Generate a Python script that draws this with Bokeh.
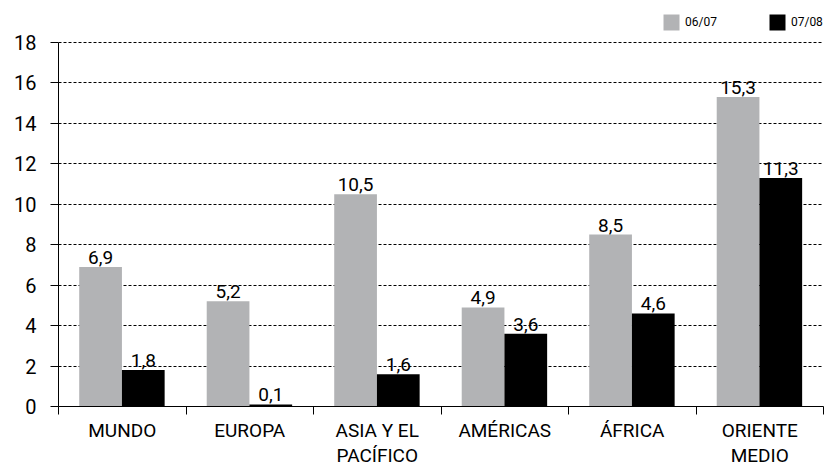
import numpy as np
from bokeh.plotting import figure
from bokeh.models import (Range1d, FixedTicker, CustomJSTickFormatter, Legend, LegendItem,
                          ColumnDataSource)
from bokeh.core.properties import value
from bokeh.embed import file_html
from bokeh.resources import INLINE

categories = ["MUNDO", "EUROPA", "ASIA Y EL\nPACÍFICO", "AMÉRICAS", "ÁFRICA", "ORIENTE\nMEDIO"]
series_names = ["06/07", "07/08"]
vals_0607 = [6.9, 5.2, 10.5, 4.9, 8.5, 15.3]
vals_0708 = [1.8, 0.1, 1.6, 3.6, 4.6, 11.3]
y_ticks = [0, 2, 4, 6, 8, 10, 12, 14, 16, 18]
y_max = 18

FONT = "Roboto"
GRAY = "#B2B3B5"
BLACK = "#000000"

n = len(categories)
idx = np.arange(n)

p = figure(width=824, height=469, output_backend="svg", toolbar_location=None,
           x_range=Range1d(0, n), y_range=Range1d(0, 19.58),
           min_border_left=58, min_border_right=1, min_border_top=10, min_border_bottom=62)
p.outline_line_color = None
p.background_fill_color = "white"
p.border_fill_color = "white"

fmt = lambda v: f"{v:.1f}".replace(".", ",")
src_a = ColumnDataSource(dict(x=idx + 0.33, top=vals_0607, lab=[fmt(v) for v in vals_0607]))
src_b = ColumnDataSource(dict(x=idx + 0.665, top=vals_0708, lab=[fmt(v) for v in vals_0708]))

ra = p.vbar(x="x", top="top", bottom=0, width=0.335, source=src_a, fill_color=GRAY, line_color=None)
rb = p.vbar(x="x", top="top", bottom=0, width=0.335, source=src_b, fill_color=BLACK, line_color=None)

for s in (src_a, src_b):
    p.text(x="x", y="top", text="lab", source=s, text_align="center", text_baseline="bottom",
           y_offset=-3, text_font=value(FONT), text_font_size="19px", text_color="black")

# grid
p.xgrid.visible = False
p.ygrid.ticker = FixedTicker(ticks=y_ticks)
p.ygrid.grid_line_color = "black"
p.ygrid.grid_line_dash = "3 2"
p.ygrid.grid_line_width = 1

# y axis
p.yaxis.ticker = FixedTicker(ticks=y_ticks)
p.yaxis.bounds = (0, y_max)
p.yaxis.axis_line_color = "black"
p.yaxis.major_tick_out = 8
p.yaxis.major_tick_in = 0
p.yaxis.minor_tick_line_color = None
p.yaxis.major_label_text_font = FONT
p.yaxis.major_label_text_font_size = "20px"
p.yaxis.major_label_text_color = "black"
p.yaxis.major_label_standoff = 14

# x axis
p.xaxis.ticker = FixedTicker(ticks=list(idx + 0.5), minor_ticks=list(range(n + 1)))
p.xaxis.formatter = CustomJSTickFormatter(args=dict(labels=categories),
                                          code="return labels[Math.floor(tick)];")
p.xaxis.axis_line_color = "black"
p.xaxis.major_tick_out = 0
p.xaxis.major_tick_in = 0
p.xaxis.minor_tick_out = 8
p.xaxis.minor_tick_in = 0
p.xaxis.minor_tick_line_color = "black"
p.xaxis.major_label_text_font = FONT
p.xaxis.major_label_text_font_size = "19px"
p.xaxis.major_label_text_color = "black"
p.xaxis.major_label_text_line_height = 1.1
p.xaxis.major_label_standoff = 4

legend = Legend(items=[LegendItem(label=series_names[0], renderers=[ra]),
                       LegendItem(label=series_names[1], renderers=[rb])],
                orientation="horizontal", location=(603, 374),
                glyph_width=20, glyph_height=20, label_standoff=4, spacing=50,
                padding=0, margin=0, border_line_color=None, background_fill_alpha=0,
                label_text_font=FONT, label_text_font_size="12px", label_height=20,
                label_text_color="black")
p.add_layout(legend, "center")

open("out.html", "w").write(file_html(p, INLINE))
